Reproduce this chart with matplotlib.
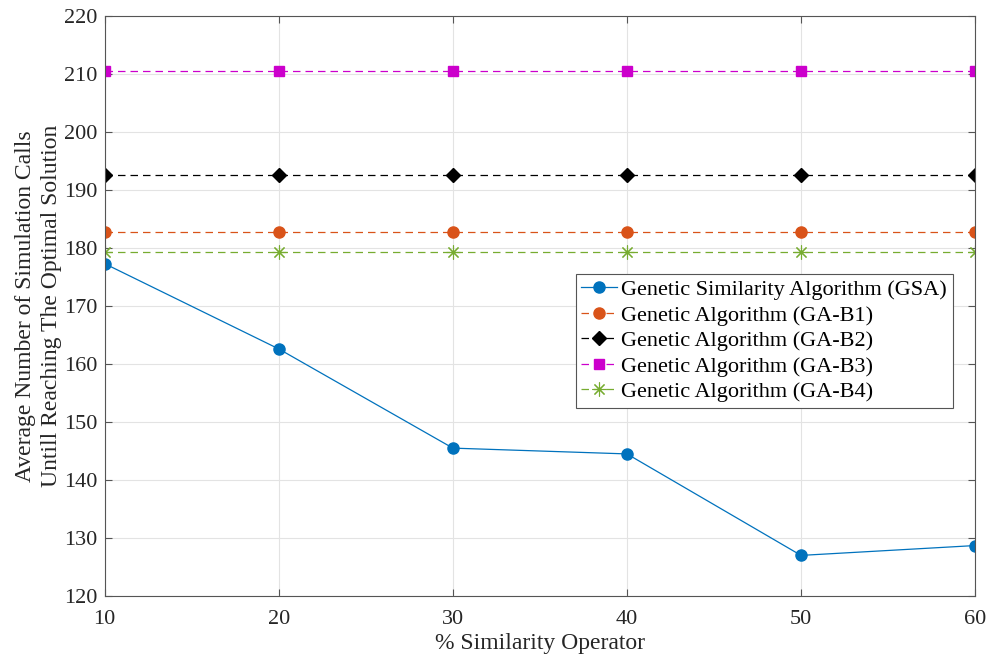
import matplotlib
matplotlib.use("Agg")
import matplotlib.pyplot as plt

# donnees
similarite = [10, 20, 30, 40, 50, 60]
gsa = [177.3, 162.6, 145.5, 144.5, 127.0, 128.7]
ga_b1 = [182.8] * 6
ga_b2 = [192.6] * 6
ga_b3 = [210.6] * 6
ga_b4 = [179.4] * 6

plt.rcParams['font.family'] = ['Liberation Serif', 'DejaVu Serif']
plt.rcParams['font.size'] = 16

fig = plt.figure(figsize=(9.88, 6.59), dpi=100)
ax = fig.add_axes([0.106, 0.0956, 0.881, 0.880])

tirets = (0, (6, 4))
ax.plot(similarite, gsa, color="#0072BD", lw=0.9, marker="o", ms=8, label="Genetic Similarity Algorithm (GSA)")
ax.plot(similarite, ga_b1, color="#D95319", lw=0.9, ls=tirets, marker="o", ms=8, label="Genetic Algorithm (GA-B1)")
ax.plot(similarite, ga_b2, color="black", lw=0.9, ls=tirets, marker="D", ms=7, label="Genetic Algorithm (GA-B2)")
ax.plot(similarite, ga_b3, color="#CC00CC", lw=0.9, ls=tirets, marker="s", ms=7, label="Genetic Algorithm (GA-B3)")
ax.plot(similarite, ga_b4, color="#77AC30", lw=0.9, ls=tirets, marker=(8, 2, 0), ms=10, mew=0.8,
        label="Genetic Algorithm (GA-B4)")

ax.set_xlim(10, 60)
ax.set_ylim(120, 220)
ax.set_xticks(similarite)
ax.set_yticks(range(120, 221, 10))
ax.grid(True, color="#e3e3e3", lw=0.8)
ax.set_axisbelow(True)
for s in ax.spines.values():
    s.set_color("#555555")
    s.set_linewidth(0.8)
ax.tick_params(direction="in", top=True, right=True, length=5, color="#555555", labelcolor="#262626", pad=5)
ax.tick_params(axis="x", pad=10)

ax.set_xlabel("% Similarity Operator", color="#262626", fontsize=17, labelpad=3)
ax.set_ylabel("Average Number of Simulation Calls\nUntill Reaching The Optimal Solution", color="#262626",
              fontsize=17, linespacing=1.3, labelpad=2)

leg = ax.legend(loc="upper right", bbox_to_anchor=(0.974, 0.555), fancybox=False, framealpha=1,
                edgecolor="#555555", handlelength=1.6, handletextpad=0.2, borderpad=0.25, labelspacing=0.22,
                borderaxespad=0)
leg.get_frame().set_linewidth(0.8)

fig.savefig("out.png", dpi=100)
